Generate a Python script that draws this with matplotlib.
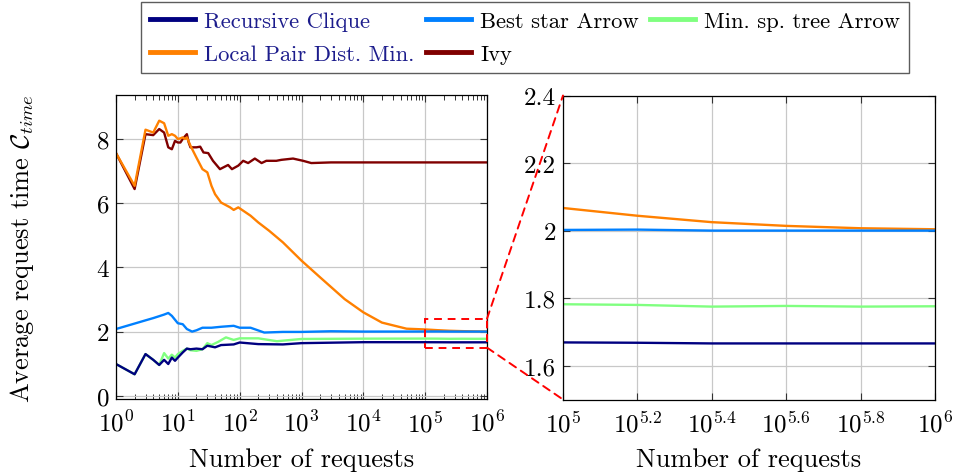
import matplotlib
matplotlib.use('Agg')
import matplotlib.pyplot as plt
from matplotlib.patches import Rectangle, ConnectionPatch
from matplotlib.lines import Line2D
from matplotlib.ticker import LogLocator
import numpy as np

plt.rcParams['font.family'] = ['cmr10']
plt.rcParams['mathtext.fontset'] = 'cm'
plt.rcParams['axes.formatter.use_mathtext'] = True

# number of requests (x) and average request time per algorithm
n_ivy = [1, 2, 3, 4, 5, 6, 7, 8, 9, 10, 11, 12, 13, 14, 15, 16, 20, 23, 26, 31, 37, 48, 65, 75,
         95, 114, 137, 176, 226, 270, 392, 472, 730, 1060, 1440, 3000, 1e4, 1e5, 1e6]
ivy = [7.56, 6.44, 8.15, 8.12, 8.31, 8.20, 7.74, 7.68, 7.94, 7.89, 7.89, 8.0, 8.08, 8.15, 7.89, 7.74,
       7.74, 7.76, 7.58, 7.56, 7.32, 7.06, 7.19, 7.06, 7.17, 7.32, 7.25, 7.39, 7.25, 7.32, 7.32,
       7.35, 7.39, 7.32, 7.25, 7.27, 7.27, 7.27, 7.27]

n_lpdm = [1, 2, 3, 4, 5, 6, 7, 8, 9, 10, 11, 12, 13, 14, 16, 20, 25, 30, 35, 40, 50, 70, 80, 95,
          100, 150, 200, 300, 500, 1000, 2000, 5000, 1e4, 2e4, 5e4,
          1e5, 10**5.2, 10**5.4, 10**5.6, 10**5.8, 1e6]
lpdm = [7.56, 6.54, 8.29, 8.20, 8.57, 8.49, 8.10, 8.15, 8.10, 8.0, 8.02, 8.05, 8.0, 8.05, 7.79,
        7.42, 7.06, 6.96, 6.54, 6.28, 6.02, 5.87, 5.79, 5.87, 5.84, 5.61, 5.40, 5.14, 4.78, 4.21,
        3.69, 3.01, 2.60, 2.28, 2.09, 2.067, 2.044, 2.025, 2.014, 2.007, 2.004]

n_star = [1, 2, 3, 4, 5, 6, 7, 8, 10, 12, 14, 17, 20, 25, 35, 50, 80, 100, 150, 250, 500, 1000,
          3000, 1e4, 1e5, 10**5.2, 10**5.4, 10**5.6, 10**5.8, 1e6]
star = [2.08, 2.25, 2.35, 2.42, 2.48, 2.53, 2.58, 2.49, 2.26, 2.23, 2.08, 2.0, 2.04, 2.12, 2.12,
        2.15, 2.18, 2.12, 2.12, 1.97, 1.99, 1.99, 2.01, 2.0, 2.002, 2.003, 2.0, 2.0, 2.0, 2.0]

n_mst = [1, 2, 3, 4, 5, 6, 7, 8, 9, 10, 12, 14, 16, 20, 25, 30, 35, 45, 60, 80, 100, 200, 400,
         1000, 1e4, 1e5, 10**5.2, 10**5.4, 10**5.6, 10**5.8, 1e6]
mst = [0.99, 0.67, 1.30, 1.12, 0.96, 1.33, 1.16, 1.28, 1.19, 1.30, 1.40, 1.47, 1.42, 1.40, 1.45,
       1.64, 1.58, 1.68, 1.82, 1.74, 1.79, 1.79, 1.70, 1.77, 1.78, 1.782, 1.780, 1.775, 1.777,
       1.775, 1.776]

n_rc = [1, 2, 3, 4, 5, 6, 7, 8, 9, 10, 12, 14, 16, 20, 25, 30, 40, 50, 80, 100, 200, 500, 1000,
        1e4, 1e5, 10**5.2, 10**5.4, 10**5.6, 10**5.8, 1e6]
rc = [0.99, 0.67, 1.30, 1.12, 0.96, 1.12, 0.99, 1.19, 1.09, 1.19, 1.35, 1.47, 1.45, 1.47, 1.45,
      1.56, 1.51, 1.58, 1.60, 1.66, 1.61, 1.60, 1.64, 1.67, 1.669, 1.668, 1.666, 1.666, 1.666,
      1.666]

series = [
    ('Recursive Clique', n_rc, rc, '#000080'),
    ('Local Pair Dist. Min.', n_lpdm, lpdm, '#ff8000'),
    ('Best star Arrow', n_star, star, '#0080ff'),
    ('Ivy', n_ivy, ivy, '#800000'),
    ('Min. sp. tree Arrow', n_mst, mst, '#80ff80'),
]
draw_order = [3, 1, 2, 4, 0]

left_ticks = [1, 10, 100, 1e3, 1e4, 1e5, 1e6]
left_labels = ['$10^{%d}$' % k for k in range(7)]
right_exp = [5, 5.2, 5.4, 5.6, 5.8, 6]
right_labels = ['$10^{5}$', '$10^{5.2}$', '$10^{5.4}$', '$10^{5.6}$', '$10^{5.8}$', '$10^{6}$']

W, H = 955, 477
fs = 18
fig = plt.figure(figsize=(W / 100, H / 100), dpi=100)
ax1 = fig.add_axes([116 / W, 1 - 400 / H, 371 / W, 304 / H])
ax2 = fig.add_axes([563 / W, 1 - 400.5 / H, 372 / W, 304 / H])

for ax in (ax1, ax2):
    for i in draw_order:
        name, xs, ys, c = series[i]
        ax.plot(xs, ys, color=c, lw=1.7, label=name)
    ax.set_xscale('log')
    ax.grid(True, which='major', color='#c8c8c8', lw=0.9)
    ax.set_axisbelow(True)
    ax.tick_params(which='both', direction='in', top=True, right=True, labelsize=fs,
                   color='#333333')
    ax.tick_params(which='major', length=5, width=0.8)
    ax.tick_params(which='minor', length=3.5, width=0.7)
    ax.tick_params(axis='y', pad=5)
    ax.tick_params(axis='x', pad=8)
    for s in ax.spines.values():
        s.set_linewidth(0.9)
    ax.set_xlabel('Number of requests', fontsize=19, labelpad=8)

ax1.set_xlim(1, 1e6)
ax1.set_ylim(-0.1, 9.37)
ax1.set_xticks(left_ticks)
ax1.set_xticklabels(left_labels)
ax1.xaxis.set_minor_locator(LogLocator(base=10, subs=np.arange(2, 10), numticks=100))
ax1.xaxis.set_minor_formatter(plt.NullFormatter())
ax1.set_yticks([0, 2, 4, 6, 8])
ax1.set_yticklabels(['0', '2', '4', '6', '8'])

ax2.set_xlim(1e5, 1e6)
ax2.set_ylim(1.5, 2.4)
ax2.set_xticks([10 ** e for e in right_exp])
ax2.set_xticklabels(right_labels)
ax2.minorticks_off()
ax2.set_yticks([1.6, 1.8, 2.0, 2.2, 2.4])
ax2.set_yticklabels(['1.6', '1.8', '2', '2.2', '2.4'])

fig.text(22 / W, 1 - 249 / H, r'Average request time $\mathcal{C}_{time}$', rotation=90,
         ha='center', va='center', fontsize=19)

# zoom box and connectors
ax1.add_patch(Rectangle((1e5, 1.5), 9e5, 0.9, fill=False, ec='red', ls=(0, (4, 3)),
                        lw=1.4, clip_on=False, zorder=5))
for y_a, y_b in ((2.4, 2.4), (1.5, 1.5)):
    con = ConnectionPatch(xyA=(1e6, y_a), coordsA=ax1.transData,
                          xyB=(1e5, y_b), coordsB=ax2.transData,
                          color='red', ls=(0, (4, 3)), lw=1.4, zorder=10)
    fig.add_artist(con)

handles = [Line2D([], [], color=c, lw=3.5) for _, _, _, c in series]
labels = [s[0] for s in series]
leg = fig.legend(handles, labels, loc='upper center', bbox_to_anchor=(525 / W, 1 - 3 / H),
                 ncol=3, fontsize=16.3, frameon=True, fancybox=False, edgecolor='#333333',
                 handlelength=2.0, handletextpad=0.4, columnspacing=0.5, labelspacing=0.6,
                 borderpad=0.4, borderaxespad=0)
leg.get_frame().set_linewidth(1.0)
for t in leg.get_texts()[:2]:
    t.set_color('#1c1c8c')

fig.savefig('out.png', dpi=100)
